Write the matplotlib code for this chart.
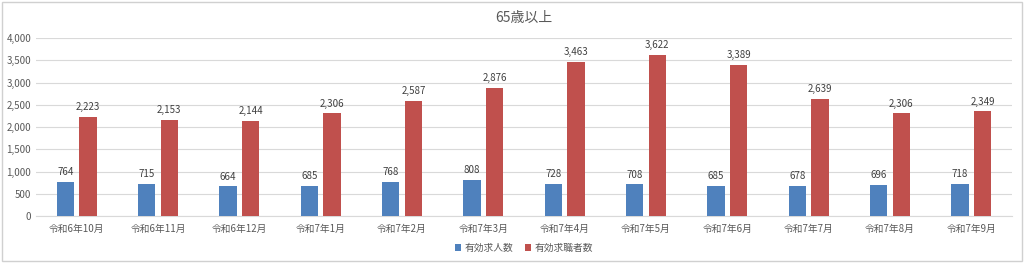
import numpy as np
import matplotlib
matplotlib.use('Agg')
import matplotlib.pyplot as plt
from matplotlib.patches import Rectangle

plt.rcParams['font.family'] = ['Noto Sans CJK JP', 'DejaVu Sans']

# Data
months = ['令和6年10月', '令和6年11月', '令和6年12月', '令和7年1月', '令和7年2月', '令和7年3月',
          '令和7年4月', '令和7年5月', '令和7年6月', '令和7年7月', '令和7年8月', '令和7年9月']
job_openings = [764, 715, 664, 685, 768, 808, 728, 708, 685, 678, 696, 718]
job_seekers = [2223, 2153, 2144, 2306, 2587, 2876, 3463, 3622, 3389, 2639, 2306, 2349]
series_names = ['有効求人数', '有効求職者数']

blue = '#4F81BD'
red = '#C0504D'
text_col = '#595959'

fig = plt.figure(figsize=(10.24, 2.63), dpi=100)
ax = fig.add_axes([36 / 1024, 1 - 216 / 263, (1012 - 36) / 1024, (216 - 38) / 263])

x = np.arange(len(months))
w = 0.215
off = 0.14
b1 = ax.bar(x - off, job_openings, w, color=blue, label=series_names[0], zorder=3)
b2 = ax.bar(x + off, job_seekers, w, color=red, label=series_names[1], zorder=3)

# value labels above bars
for bars in (b1, b2):
    for r in bars:
        h = r.get_height()
        ax.annotate(f'{h:,.0f}', (r.get_x() + r.get_width() / 2, h),
                    xytext=(0, 3.5), textcoords='offset points', ha='center', va='bottom',
                    fontsize=7, color='#404040')

ax.set_xlim(-0.5, len(months) - 0.5)
ax.set_ylim(0, 4000)
ax.set_yticks(np.arange(0, 4001, 500))
ax.set_yticklabels([f'{v:,}' for v in range(0, 4001, 500)])
ax.set_xticks(x)
ax.set_xticklabels(months)
ax.tick_params(axis='both', length=0, labelsize=7, colors=text_col)
ax.tick_params(axis='x', pad=6)
ax.grid(axis='y', color='#D9D9D9', linewidth=0.8, zorder=0)
for s in ['top', 'right', 'left']:
    ax.spines[s].set_visible(False)
ax.spines['bottom'].set_color('#D9D9D9')

fig.text(524 / 1024, 1 - 18 / 263, '65歳以上', ha='center', va='center', fontsize=10, color=text_col)

fig.legend(handles=[b1, b2], loc='center', bbox_to_anchor=(524 / 1024, 1 - 248 / 263), ncol=2,
           frameon=False, fontsize=7, handlelength=0.6, handleheight=0.6, handletextpad=0.4,
           columnspacing=1.2, labelcolor=text_col)

# outer chart border
fig.patches.append(Rectangle((2 / 1024, 2 / 263), 1020 / 1024, 259 / 263, transform=fig.transFigure,
                             fill=False, edgecolor='#D0D0D0', linewidth=1))

fig.savefig('out.png', dpi=100)
